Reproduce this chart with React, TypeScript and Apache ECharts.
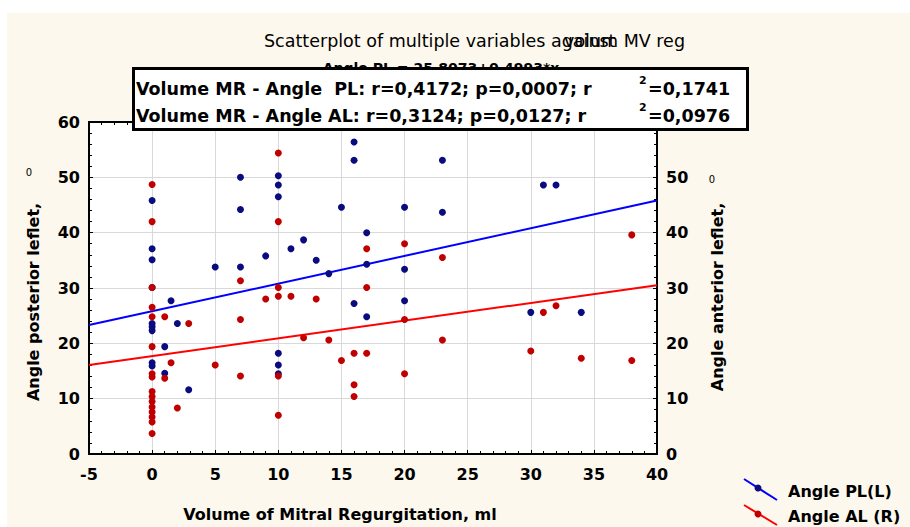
import React, { useEffect, useRef } from "react";
import * as echarts from "echarts";

// Angle posterior leflet (left axis)
const plX = [0, 0, 0, 0, 0, 0, 0, 0, 0, 1, 1, 1.5, 2, 2.9, 5, 7, 7, 7, 9, 10, 10, 10, 10, 10, 10, 11, 12, 13, 14, 15, 16, 16, 16, 17, 17, 17, 20, 20, 20, 23, 23, 30, 31, 32, 34];
const plY = [45.8, 37.1, 35.1, 30.1, 23.6, 23.0, 22.3, 16.5, 15.9, 19.4, 14.6, 27.7, 23.6, 11.6, 33.8, 50.0, 44.2, 33.8, 35.8, 50.3, 48.6, 46.5, 18.2, 16.1, 14.5, 37.1, 38.7, 35.0, 32.6, 44.6, 56.4, 53.1, 27.2, 40.0, 34.3, 24.8, 44.6, 33.4, 27.7, 53.1, 43.7, 25.6, 48.6, 48.6, 25.6];
// Angle anterior leflet (right axis)
const alX = [0, 0, 0, 0, 0, 0, 0, 0, 0, 0, 0, 0, 0, 0, 0, 0, 1, 1, 1.5, 2, 2.9, 5, 7, 7, 7, 9, 10, 10, 10, 10, 10, 10, 11, 12, 13, 14, 15, 16, 16, 16, 17, 17, 17, 20, 20, 20, 23, 23, 30, 31, 32, 34, 38, 38];
const alY = [48.7, 42.0, 30.1, 26.5, 24.8, 19.4, 14.5, 13.9, 11.3, 10.4, 9.5, 8.5, 7.6, 6.7, 5.8, 3.7, 24.8, 13.7, 16.5, 8.3, 23.6, 16.1, 31.3, 24.3, 14.1, 28.0, 54.4, 42.0, 30.1, 28.5, 14.1, 7.0, 28.5, 21.0, 28.0, 20.6, 16.9, 18.2, 12.5, 10.4, 37.1, 30.1, 18.2, 38.0, 24.3, 14.5, 35.5, 20.6, 18.6, 25.6, 26.8, 17.3, 39.6, 16.9];
// fitted lines, end points
const plFitX = [-5, 40];
const plFitY = [23.3, 45.8];
const alFitX = [-5, 40];
const alFitY = [16.1, 30.5];
const xTicks = { min: -5, max: 40, interval: 5 };
const yTicks = { min: 0, max: 60, interval: 10 };
// right-axis tick labels that are visible (60 lies under the statistics box)
const rightTickLabels = ["0", "10", "20", "30", "40", "50"];

const FONT = "'DejaVu Sans', 'Liberation Sans', Arial, sans-serif";
const BLUE_PT = "#0b0b80";
const RED_PT = "#c00000";

export default function App() {
  const ref = useRef<HTMLDivElement>(null);
  useEffect(() => {
    if (!ref.current) return;
    const chart = echarts.init(ref.current, undefined, { renderer: "svg" });
    const pl = plX.map((x, i) => [x, plY[i]]);
    const al = alX.map((x, i) => [x, alY[i]]);
    const plFit = plFitX.map((x, i) => [x, plFitY[i]]);
    const alFit = alFitX.map((x, i) => [x, alFitY[i]]);
    const labelStyle = { color: "#000", fontFamily: FONT, fontWeight: "bold" as const, fontSize: 16 };
    const tick = { show: true, inside: true, length: 4, lineStyle: { color: "#000", width: 1 } };
    const minor = { show: true, splitNumber: 5, length: 3, lineStyle: { color: "#000", width: 1 } };
    const axisLine = { show: true, onZero: false, lineStyle: { color: "#000", width: 2 } };
    const bold = (px: number) => `bold ${px}px ${FONT}`;
    chart.setOption({
      animation: false,
      backgroundColor: "transparent",
      grid: { left: 89, right: 253, top: 122, bottom: 73, show: true, backgroundColor: "#fff", borderColor: "#000", borderWidth: 2 },
      xAxis: [
        {
          type: "value", ...xTicks, position: "bottom",
          axisLine, axisTick: tick, minorTick: minor,
          axisLabel: { ...labelStyle, margin: 12 },
          splitLine: { show: true, lineStyle: { color: "#d9d9d9", width: 1 } },
        },
        {
          type: "value", ...xTicks, position: "top",
          axisLine, axisTick: tick, minorTick: minor,
          axisLabel: { show: false }, splitLine: { show: false },
        },
      ],
      yAxis: [
        {
          type: "value", ...yTicks, position: "left",
          axisLine, axisTick: tick, minorTick: minor,
          axisLabel: { ...labelStyle, margin: 9 },
          splitLine: { show: true, lineStyle: { color: "#d9d9d9", width: 1 } },
        },
        {
          type: "value", ...yTicks, position: "right",
          axisLine, axisTick: tick, minorTick: minor,
          axisLabel: {
            ...labelStyle, margin: 9,
            formatter: (v: number) => (rightTickLabels.includes(String(v)) ? String(v) : ""),
          },
          splitLine: { show: false },
        },
      ],
      series: [
        { type: "line", data: plFit, xAxisIndex: 0, yAxisIndex: 0, showSymbol: false, symbol: "none", lineStyle: { color: "#0000ff", width: 2 }, z: 3 },
        { type: "line", data: alFit, xAxisIndex: 0, yAxisIndex: 1, showSymbol: false, symbol: "none", lineStyle: { color: "#ff0000", width: 2 }, z: 3 },
        { type: "scatter", name: "Angle PL(L)", data: pl, xAxisIndex: 0, yAxisIndex: 0, symbolSize: 7, itemStyle: { color: BLUE_PT, opacity: 1 }, z: 4 },
        { type: "scatter", name: "Angle AL (R)", data: al, xAxisIndex: 0, yAxisIndex: 1, symbolSize: 7, itemStyle: { color: RED_PT, opacity: 1 }, z: 5 },
      ],
      graphic: [
        { type: "rect", z: -10, silent: true, shape: { x: 7, y: 13, width: 903, height: 514 }, style: { fill: "#fdf8ed" } },
        { type: "text", z: 1, x: 264, y: 41, style: { text: "Scatterplot of multiple variables against", font: `17.5px ${FONT}`, fill: "#000", textVerticalAlign: "middle" } },
        { type: "text", z: 1, x: 685, y: 41, style: { text: "volum MV reg", font: `17.5px ${FONT}`, fill: "#000", textAlign: "right", textVerticalAlign: "middle" } },
        { type: "text", z: 1, x: 441, y: 68, style: { text: "Angle PL = 25,8073+0,4993*x", font: bold(14), fill: "#000", textAlign: "center", textVerticalAlign: "middle" } },
        { type: "rect", z: 100, shape: { x: 133.5, y: 68.5, width: 614, height: 61 }, style: { fill: "#fff", stroke: "#000", lineWidth: 3 } },
        { type: "text", z: 101, x: 136, y: 89, style: { text: "Volume MR - Angle  PL: r=0,4172; p=0,0007; r", font: bold(17.5), fill: "#000", textVerticalAlign: "middle" } },
        { type: "text", z: 101, x: 639, y: 80, style: { text: "2", font: bold(11), fill: "#000", textVerticalAlign: "middle" } },
        { type: "text", z: 101, x: 648, y: 89, style: { text: "=0,1741", font: bold(17.5), fill: "#000", textVerticalAlign: "middle" } },
        { type: "text", z: 101, x: 136, y: 116, style: { text: "Volume MR - Angle AL: r=0,3124; p=0,0127; r", font: bold(17.5), fill: "#000", textVerticalAlign: "middle" } },
        { type: "text", z: 101, x: 639, y: 107, style: { text: "2", font: bold(11), fill: "#000", textVerticalAlign: "middle" } },
        { type: "text", z: 101, x: 648, y: 116, style: { text: "=0,0976", font: bold(17.5), fill: "#000", textVerticalAlign: "middle" } },
        { type: "text", x: 340, y: 514, style: { text: "Volume of Mitral Regurgitation, ml", font: bold(16), fill: "#000", textAlign: "center", textVerticalAlign: "middle" } },
        { type: "text", x: 33, y: 302, rotation: Math.PI / 2, style: { text: "Angle posterior leflet,", font: bold(16), fill: "#000", textAlign: "center", textVerticalAlign: "middle" } },
        { type: "text", x: 29, y: 172, style: { text: "0", font: `10px ${FONT}`, fill: "#000", textAlign: "center", textVerticalAlign: "middle" } },
        { type: "text", x: 717, y: 297, rotation: Math.PI / 2, style: { text: "Angle anterior leflet,", font: bold(16), fill: "#000", textAlign: "center", textVerticalAlign: "middle" } },
        { type: "text", x: 712, y: 179, style: { text: "0", font: `10px ${FONT}`, fill: "#000", textAlign: "center", textVerticalAlign: "middle" } },
        { type: "line", shape: { x1: 744, y1: 479, x2: 777, y2: 500 }, style: { stroke: "#0000ff", lineWidth: 2 } },
        { type: "circle", shape: { cx: 758, cy: 488, r: 3.5 }, style: { fill: BLUE_PT } },
        { type: "text", x: 788, y: 491, style: { text: "Angle PL(L)", font: bold(16), fill: "#000", textVerticalAlign: "middle" } },
        { type: "line", shape: { x1: 744, y1: 505, x2: 777, y2: 525 }, style: { stroke: "#ff0000", lineWidth: 2 } },
        { type: "circle", shape: { cx: 758, cy: 514, r: 3.5 }, style: { fill: RED_PT } },
        { type: "text", x: 788, y: 516, style: { text: "Angle AL (R)", font: bold(16), fill: "#000", textVerticalAlign: "middle" } },
      ],
    });
    return () => chart.dispose();
  }, []);
  return (
    <div style={{ position: "absolute", left: 0, top: 0, width: 910, height: 527, background: "#fff" }}>
      <div ref={ref} style={{ width: 910, height: 527 }} />
    </div>
  );
}
